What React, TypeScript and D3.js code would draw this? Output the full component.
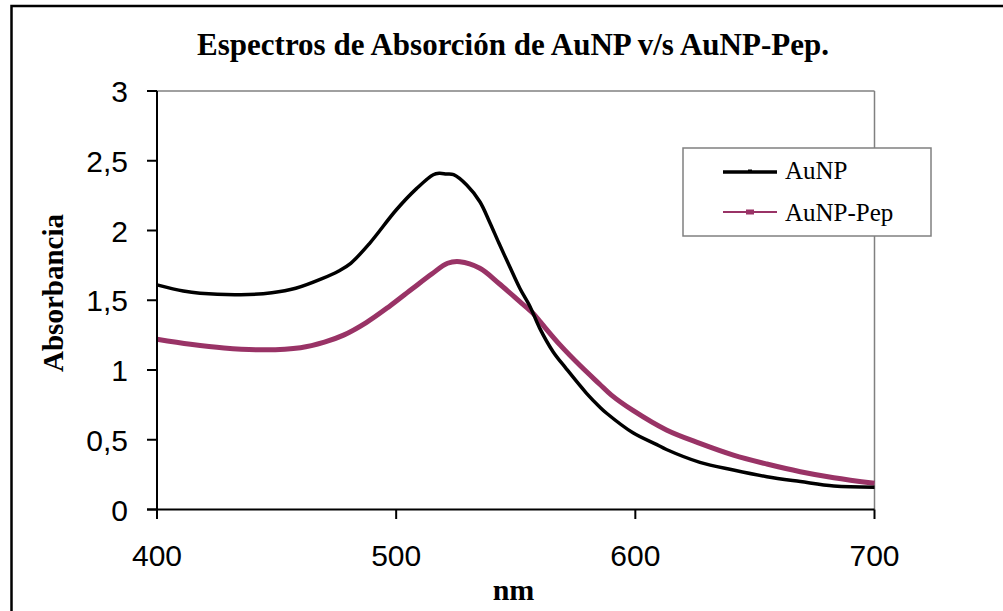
import React from "react";
import * as d3 from "d3";

const title = "Espectros de Absorción de AuNP v/s AuNP-Pep.";
const xLabel = "nm";
const yLabel = "Absorbancia";
const xTicks = [400, 500, 600, 700];
const yTicks = [0, 0.5, 1, 1.5, 2, 2.5, 3];
const seriesNames = ["AuNP", "AuNP-Pep"];

const aunpNm = [400, 411, 418, 435, 448, 458, 469, 476, 481, 489, 500, 508.5, 515.5, 518, 521, 524, 529.5, 535, 539, 543, 547.5, 551.7, 556, 560, 565.6, 571, 579.6, 585, 588, 599, 609, 613, 627, 641, 655, 669, 683, 700];
const aunpAbs = [1.61, 1.566, 1.55, 1.54, 1.554, 1.586, 1.655, 1.71, 1.765, 1.91, 2.147, 2.3, 2.4, 2.41, 2.405, 2.4, 2.326, 2.206, 2.063, 1.908, 1.74, 1.586, 1.454, 1.3, 1.131, 1.012, 0.833, 0.737, 0.69, 0.55, 0.465, 0.43, 0.338, 0.283, 0.235, 0.2, 0.168, 0.159];

const pepNm = [400, 414, 428, 445, 460, 470, 478, 487.5, 497, 507, 515, 521.5, 526.6, 535, 543, 551.7, 557, 560, 568.5, 577, 585, 590, 599, 613, 627, 641, 655, 669, 683, 700];
const pepAbs = [1.22, 1.184, 1.158, 1.145, 1.16, 1.2, 1.25, 1.34, 1.454, 1.586, 1.69, 1.765, 1.776, 1.729, 1.62, 1.49, 1.41, 1.35, 1.18, 1.03, 0.9, 0.82, 0.71, 0.57, 0.474, 0.39, 0.326, 0.271, 0.228, 0.188];

const PINK = "#993366";

export default function App() {
  const left = 157, right = 874.5, top = 91, bottom = 509.5;
  const x = d3.scaleLinear().domain([400, 700]).range([left, right]);
  const y = d3.scaleLinear().domain([0, 3]).range([bottom, top]);
  const line = d3
    .line<[number, number]>()
    .x((d) => x(d[0]))
    .y((d) => y(d[1]))
    .curve(d3.curveCatmullRom.alpha(0.5));
  const aunp = aunpNm.map((n, i) => [n, aunpAbs[i]] as [number, number]);
  const pep = pepNm.map((n, i) => [n, pepAbs[i]] as [number, number]);

  const serif = "'Liberation Serif', 'Times New Roman', serif";
  const sans = "'Liberation Sans', Arial, sans-serif";

  return (
    <svg
      width={1003}
      height={611}
      style={{ position: "absolute", left: 0, top: 0, background: "#fff" }}
    >
      <rect x={0} y={0} width={1003} height={611} fill="#fff" />
      {/* outer chart border */}
      <rect x={11.5} y={6} width={1000} height={620} fill="none" stroke="#000" strokeWidth={2.5} />

      {/* title */}
      <text x={513} y={55} textAnchor="middle" fontFamily={serif} fontWeight="bold" fontSize={31}>
        {title}
      </text>

      {/* plot area frame: grey top/right */}
      <line x1={left} x2={right} y1={top} y2={top} stroke="#808080" strokeWidth={1.5} />
      <line x1={right} x2={right} y1={top} y2={bottom} stroke="#808080" strokeWidth={1.5} />

      {/* series */}
      <path d={line(pep) || ""} fill="none" stroke={PINK} strokeWidth={5} strokeLinejoin="round" />
      <path d={line(aunp) || ""} fill="none" stroke="#000" strokeWidth={3.5} strokeLinejoin="round" />

      {/* axes */}
      <line x1={left} x2={left} y1={top} y2={bottom + 9.5} stroke="#000" strokeWidth={2} />
      <line x1={left - 10} x2={right} y1={bottom} y2={bottom} stroke="#000" strokeWidth={2} />
      {yTicks.map((t) => (
        <g key={"y" + t}>
          <line x1={left - 10} x2={left} y1={y(t)} y2={y(t)} stroke="#000" strokeWidth={2} />
          <text x={128} y={y(t) + 11} textAnchor="end" fontFamily={sans} fontSize={30}>
            {String(t).replace(".", ",")}
          </text>
        </g>
      ))}
      {xTicks.map((t) => (
        <g key={"x" + t}>
          <line x1={x(t)} x2={x(t)} y1={bottom} y2={bottom + 9.5} stroke="#000" strokeWidth={2} />
          <text x={x(t)} y={566} textAnchor="middle" fontFamily={sans} fontSize={30}>
            {t}
          </text>
        </g>
      ))}

      {/* axis titles */}
      <text x={513.5} y={600} textAnchor="middle" fontFamily={serif} fontWeight="bold" fontSize={30}>
        {xLabel}
      </text>
      <text
        transform="translate(63,293) rotate(-90)"
        textAnchor="middle"
        fontFamily={serif}
        fontWeight="bold"
        fontSize={29}
      >
        {yLabel}
      </text>

      {/* legend */}
      <rect x={683} y={148} width={248} height={88} fill="#fff" stroke="#808080" strokeWidth={1.5} />
      <line x1={723} x2={777} y1={172} y2={172} stroke="#000" strokeWidth={3.5} />
      <rect x={748} y={169.5} width={4} height={3} fill="#000" />
      <text x={785} y={179} fontFamily={serif} fontSize={25}>
        {seriesNames[0]}
      </text>
      <line x1={723} x2={777} y1={212} y2={212} stroke={PINK} strokeWidth={2} />
      <rect x={746} y={209.5} width={8} height={5} fill={PINK} />
      <text x={785} y={221} fontFamily={serif} fontSize={25}>
        {seriesNames[1]}
      </text>
    </svg>
  );
}
